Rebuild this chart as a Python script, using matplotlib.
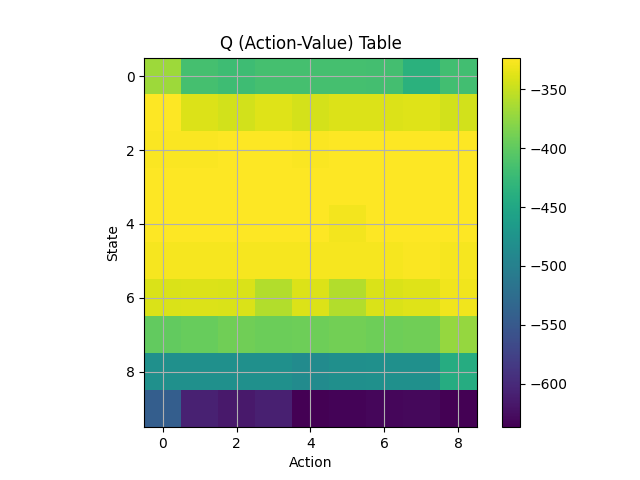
import matplotlib
matplotlib.use("Agg")
import matplotlib.pyplot as plt
import numpy as np

states = list(range(10))
actions = list(range(9))

row0 = [-369, -416, -420, -416, -416, -416, -417, -436, -418]
row1 = [-323, -340, -344, -338, -343, -340, -340, -338, -344]
row2 = [-325, -325, -323, -323, -325, -323, -323, -323, -323]
row3 = [-323, -323, -323, -323, -323, -323, -323, -323, -323]
row4 = [-324, -324, -324, -324, -324, -328, -324, -324, -324]
row5 = [-327, -327, -327, -327, -327, -327, -327, -325, -327]
row6 = [-341, -340, -341, -359, -340, -359, -341, -338, -330]
row7 = [-399, -396, -391, -393, -392, -390, -392, -391, -373]
row8 = [-480, -480, -480, -480, -485, -481, -480, -480, -442]
row9 = [-543, -608, -615, -609, -636, -634, -632, -630, -637]

Q = np.array([row0, row1, row2, row3, row4, row5, row6, row7, row8, row9])

fig, ax = plt.subplots(figsize=(6.4, 4.8), dpi=100)
im = ax.imshow(Q, cmap="viridis")
fig.colorbar(im, ax=ax)
ax.set_title("Q (Action-Value) Table")
ax.set_xlabel("Action")
ax.set_ylabel("State")
ax.grid(True)
fig.savefig("out.png", dpi=100)
